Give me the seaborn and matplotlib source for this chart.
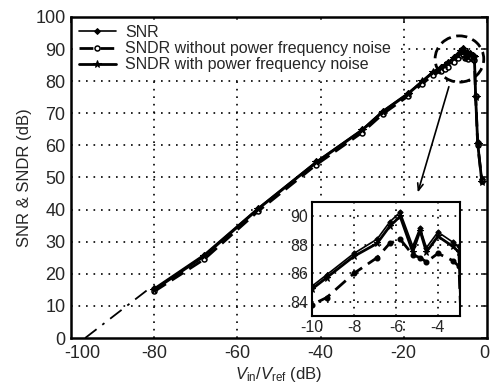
import matplotlib
matplotlib.use("Agg")
import matplotlib.pyplot as plt
import matplotlib.transforms as mtransforms
from matplotlib.patches import Ellipse
import numpy as np
import pandas as pd
import seaborn as sns

# Input amplitude (dB relative to reference) and measured ratios (dB)
vin = [-80, -68, -55, -41, -30, -25, -19, -15.5, -13, -11, -10, -9.3, -8,
       -6.9, -6.3, -5.8, -5.2, -4.85, -4.55, -4.0, -3.3, -3.0, -2.7, -2.2, -1.2]
snr = [15.5, 26.0, 40.5, 55.0, 65.0, 70.8, 76.3, 80.2, 83.0, 84.5, 85.1, 85.9,
       87.4, 88.4, 89.6, 90.3, 87.9, 89.2, 87.8, 88.9, 88.2, 87.9, 75.5, 61.0, 49.5]
sndr_no_pf = [14.5, 24.5, 39.5, 54.0, 64.0, 69.8, 75.3, 79.2, 81.8, 83.2, 83.8,
              84.3, 86.0, 87.1, 88.1, 88.4, 87.3, 87.1, 86.8, 87.4, 86.9, 86.5,
              75.3, 60.0, 49.0]
sndr_pf = [15.0, 25.5, 40.2, 54.7, 64.7, 70.5, 76.0, 79.9, 82.7, 84.2, 84.9,
           85.7, 87.2, 88.1, 89.3, 90.0, 87.5, 89.0, 87.5, 88.6, 87.9, 87.5,
           75.0, 60.5, 48.5]

# Ideal slope-one extrapolation toward the noise floor
ext_x = [-96.6, -81.0]
ext_y = [0.0, 15.6]

labels = ["SNR", "SNDR without power frequency noise",
          "SNDR with power frequency noise"]
xticks_main = [-100, -80, -60, -40, -20, 0]
yticks_main = list(range(0, 101, 10))
xticks_zoom = [-10, -8, -6, -4]
yticks_zoom = [84, 86, 88, 90]

df = pd.DataFrame({"vin": vin, "snr": snr, "no_pf": sndr_no_pf, "pf": sndr_pf})

sns.set_style("white")
plt.rcParams["font.family"] = ["Liberation Sans", "DejaVu Sans"]
plt.rcParams["mathtext.fontset"] = "custom"
plt.rcParams["mathtext.rm"] = "Liberation Sans"
plt.rcParams["mathtext.it"] = "Liberation Sans:italic"
plt.rcParams["axes.unicode_minus"] = False

fig = plt.figure(figsize=(4.91, 3.85), dpi=100)
ax = fig.add_axes([0.1446, 0.122, 0.847, 0.834])

grid_kw = dict(color="black", lw=1.2, linestyle=(0, (1, 3.5)))

def draw_series(a, ms_scale=1.0, inset=False):
    sns.lineplot(data=df, x="vin", y="snr", ax=a, sort=False, estimator=None,
                 color="black", lw=1.2, marker="D", ms=3.0 * ms_scale,
                 mec="black", mfc="black", label=labels[0])
    sns.lineplot(data=df, x="vin", y="no_pf", ax=a, sort=False, estimator=None,
                 color="black", lw=2.0, linestyle=(0, (5, 2.5)), marker="o",
                 ms=3.6 * ms_scale, mec="black",
                 mfc="black" if inset else "white", mew=1.1,
                 label=labels[1])
    sns.lineplot(data=df, x="vin", y="pf", ax=a, sort=False, estimator=None,
                 color="black", lw=2.0, marker="*", ms=5.5 * ms_scale,
                 mec="black", mfc="black", label=labels[2])

ax.plot(ext_x, ext_y, color="black", lw=1.3, linestyle=(0, (8, 4, 1.5, 4)))
draw_series(ax)

for gx in xticks_main[1:-1]:
    ax.axvline(gx, **grid_kw, zorder=0.5)
for gy in yticks_main[1:-1]:
    ax.axhline(gy, **grid_kw, zorder=0.5)

ax.set_xlim(-100, 0)
ax.set_ylim(0, 100)
ax.set_xticks(xticks_main)
ax.set_yticks(yticks_main)
ax.tick_params(direction="in", length=4, width=1.2, labelsize=13,
               top=True, right=True)
ax.tick_params(axis="x", pad=5)
ax.tick_params(axis="y", pad=4)
for s in ax.spines.values():
    s.set_linewidth(1.8)
    s.set_color("black")
ax.set_xlabel(r"$V_{\rm in}/V_{\rm ref}$ (dB)", fontsize=12, labelpad=2)
ax.set_ylabel("SNR & SNDR (dB)", fontsize=12, labelpad=2)

# nudge the end labels of the x axis so they stay clear of the corner
xlabels = ax.get_xticklabels()
xlabels[0].set_transform(xlabels[0].get_transform() +
                         mtransforms.ScaledTranslation(0.11, 0, fig.dpi_scale_trans))
xlabels[-1].set_transform(xlabels[-1].get_transform() +
                          mtransforms.ScaledTranslation(-0.03, 0, fig.dpi_scale_trans))

leg = ax.legend(loc="upper left", bbox_to_anchor=(0.0, 1.0), fontsize=11.5,
                frameon=True, fancybox=False, edgecolor="white",
                facecolor="white", framealpha=1.0, handlelength=2.3,
                handletextpad=0.6, labelspacing=0.08, borderpad=0.3,
                borderaxespad=0.2)
leg.set_zorder(3)

# Highlight of the peak region with a pointer to the magnified view
ax.add_patch(Ellipse((-6.6, 86.9), 11.7, 14.4, fill=False, color="black",
                     lw=2.0, linestyle=(0, (4, 2)), zorder=4))
ax.annotate("", xy=(-16.8, 44.5), xytext=(-8.95, 79.1),
            arrowprops=dict(arrowstyle="->,head_length=0.5,head_width=0.2",
                            color="black", lw=1.2), zorder=4)

# Magnified view of the peak
axin = fig.add_axes([0.6354, 0.179, 0.3014, 0.296])
axin.set_facecolor("white")
draw_series(axin, ms_scale=0.9, inset=True)
if axin.get_legend() is not None:
    axin.get_legend().remove()
for gx in xticks_zoom[1:]:
    axin.axvline(gx, **grid_kw, zorder=0.5)
for gy in yticks_zoom:
    axin.axhline(gy, **grid_kw, zorder=0.5)
axin.set_xlim(-10, -2.95)
axin.set_ylim(83, 91)
axin.set_xticks(xticks_zoom)
axin.set_yticks(yticks_zoom)
axin.set_xlabel("")
axin.set_ylabel("")
axin.tick_params(direction="in", length=3, width=1.0, labelsize=11.5, pad=3)
for s in axin.spines.values():
    s.set_linewidth(1.5)
    s.set_color("black")

fig.savefig("out.png", dpi=100)
